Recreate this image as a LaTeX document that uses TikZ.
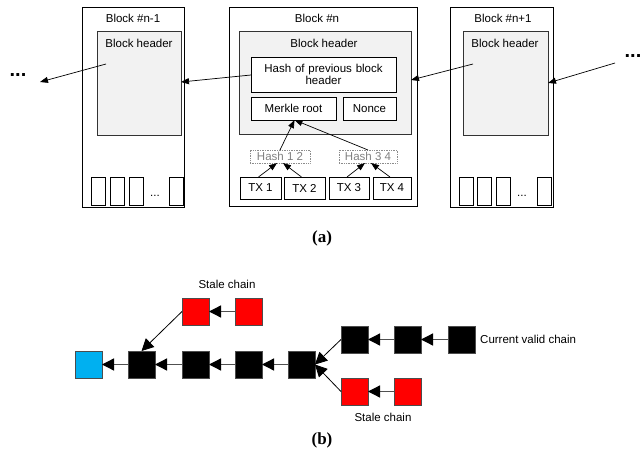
\documentclass[tikz,border=0pt]{standalone}
\usepackage{fontspec}
\setmainfont{Liberation Sans}
\newfontfamily\capfont{Liberation Serif}
\usetikzlibrary{arrows.meta,calc}
\definecolor{hdrfill}{HTML}{F2F2F2}
\definecolor{bluesq}{HTML}{00B0F0}
\definecolor{chainline}{HTML}{505050}
\tikzset{
  txt/.style={font=\fontsize{11.5}{13}\selectfont, inner sep=0pt},
  boxr/.style={draw=black, line width=0.7pt, inner sep=0pt, outer sep=0pt, anchor=north west},
  hdr/.style={boxr, fill=hdrfill, draw=black!80},
  wbox/.style={boxr, fill=white, font=\fontsize{11.5}{13}\selectfont, align=center},
  hbox/.style={draw=black!45, densely dotted, line width=0.7pt, inner sep=0pt, outer sep=0pt, anchor=north west, text=black!50, font=\fontsize{11.5}{13}\selectfont},
  arr/.style={line width=0.7pt, -{Triangle[length=8pt,width=6pt]}},
  sq/.style={draw=black!70, line width=0.6pt, minimum width=27pt, minimum height=27pt, inner sep=0pt, outer sep=0pt, anchor=north west},
  carr/.style={draw=chainline, line width=1.3pt, -{Triangle[length=12pt,width=12pt,color=black]}},
  farr/.style={draw=black, line width=0.8pt, -{Triangle[length=12pt,width=12pt]}},
  caplbl/.style={font=\capfont\bfseries\fontsize{17}{19}\selectfont, inner sep=0pt},
  bigdots/.style={font=\bfseries\fontsize{20}{22}\selectfont, inner sep=0pt}
}
\begin{document}
\begin{tikzpicture}[x=1pt,y=-1pt]
\useasboundingbox (0,0) rectangle (641,458);
% ---------- Block n-1
\node[boxr, minimum width=102pt, minimum height=200pt] (bA) at (82,7) {};
\node[txt] (tA) at (133,18) {Block \#n-1};
\node[hdr, minimum width=84pt, minimum height=104pt] (hA) at (97,31) {};
\node[txt] (lA) at (139,43) {Block header};
\node[boxr, minimum width=14pt, minimum height=28pt] (a1) at (91,177) {};
\node[boxr, minimum width=14pt, minimum height=28pt] (a2) at (110,177) {};
\node[boxr, minimum width=14pt, minimum height=28pt] (a3) at (129,177) {};
\node[txt] (ad) at (155,196) {...};
\node[boxr, minimum width=14pt, minimum height=28pt] (a4) at (169,177) {};
% ---------- Block n
\node[boxr, minimum width=188pt, minimum height=199pt] (bB) at (229,7) {};
\node[txt] (tB) at (317,18) {Block \#n};
\node[hdr, minimum width=172pt, minimum height=103pt] (hB) at (239,31) {};
\node[txt] (lB) at (324,43) {Block header};
\node[wbox, minimum width=145pt, minimum height=35pt, text width=140pt] (prev) at (251,57) {Hash of previous block\\[-1pt]header};
\node[wbox, minimum width=85pt, minimum height=23pt] (merkle) at (251,97) {Merkle root};
\node[wbox, minimum width=53pt, minimum height=23pt] (nonce) at (343,97) {Nonce};
\node[hbox, minimum width=60pt, minimum height=13pt] (h12) at (250,150) {Hash 1 2};
\node[hbox, minimum width=58pt, minimum height=13pt] (h34) at (339,150) {Hash 3 4};
\node[wbox, minimum width=41pt, minimum height=22pt] (tx1) at (240,177) {TX 1};
\node[wbox, minimum width=41pt, minimum height=22pt] (tx2) at (284,177) {TX 2};
\node[wbox, minimum width=40pt, minimum height=22pt] (tx3) at (329,177) {TX 3};
\node[wbox, minimum width=38pt, minimum height=22pt] (tx4) at (373,177) {TX 4};
% ---------- Block n+1
\node[boxr, minimum width=103pt, minimum height=200pt] (bC) at (450,7) {};
\node[txt] (tC) at (503,18) {Block \#n+1};
\node[hdr, minimum width=85pt, minimum height=104pt] (hC) at (463,31) {};
\node[txt] (lC) at (505,43) {Block header};
\node[boxr, minimum width=14pt, minimum height=28pt] (c1) at (459,177) {};
\node[boxr, minimum width=14pt, minimum height=28pt] (c2) at (477,177) {};
\node[boxr, minimum width=14pt, minimum height=28pt] (c3) at (496,177) {};
\node[txt] (cd) at (522,196) {...};
\node[boxr, minimum width=14pt, minimum height=28pt] (c4) at (537,177) {};
% ---------- dots and free ends
\node[bigdots] (dl) at (18,75) {...};
\node[bigdots] (dr) at (633,56) {...};
\coordinate (sA) at (106,64);
\coordinate (eL) at (40,82);
\coordinate (sC) at (473,64);
\coordinate (sR) at (615,63);
% ---------- top arrows
\draw[arr] (sA) -- (eL);
\draw[arr] (prev.west |- 0,75) -- (hA.east |- 0,82);
\draw[arr] (sC) -- (hB.east |- 0,80);
\draw[arr] (sR) -- (hC.east |- 0,83);
\draw[arr] (h12.north) -- ($(merkle.south)+(1,0)$);
\draw[arr] (h34.north) -- ($(merkle.south)+(1,0)$);
\draw[arr] ($(tx1.north)+(-2,0)$) -- ($(h12.south)+(-3,0)$);
\draw[arr] ($(tx2.north)+(-3,0)$) -- ($(h12.south)+(3,0)$);
\draw[arr] ($(tx3.north)+(-2,0)$) -- ($(h34.south)+(-3,0)$);
\draw[arr] ($(tx4.north)+(-2,0)$) -- ($(h34.south)+(3,0)$);
\node[caplbl] (capa) at (322,238) {(a)};
% ---------- part b
\node[sq, fill=bluesq] (g0) at (75,351) {};
\node[sq, fill=black] (m1) at (128,351) {};
\node[sq, fill=black] (m2) at (182,351) {};
\node[sq, fill=black] (m3) at (235,351) {};
\node[sq, fill=black] (m4) at (288,351) {};
\node[sq, fill=red] (r1) at (182,298) {};
\node[sq, fill=red] (r2) at (235,298) {};
\node[sq, fill=black] (t1) at (341,326) {};
\node[sq, fill=black] (t2) at (394,326) {};
\node[sq, fill=black] (t3) at (448,326) {};
\node[sq, fill=red] (s1) at (341,378) {};
\node[sq, fill=red] (s2) at (394,378) {};
\node[txt] (st1) at (227,284) {Stale chain};
\node[txt, anchor=west] (cv) at (480,339) {Current valid chain};
\node[txt] (st2) at (383,417) {Stale chain};
\draw[carr] (m1) -- (g0);
\draw[carr] (m2) -- (m1);
\draw[carr] (m3) -- (m2);
\draw[carr] (m4) -- (m3);
\draw[carr] (r2) -- (r1);
\draw[carr] (t2) -- (t1);
\draw[carr] (t3) -- (t2);
\draw[carr] (s2) -- (s1);
\draw[farr] (r1.west) -- (m1.north);
\draw[farr] (t1.west) -- (m4.east);
\draw[farr] (s1.west) -- (m4.east);
\node[caplbl] (capb) at (322,440) {(b)};
\end{tikzpicture}
\end{document}
